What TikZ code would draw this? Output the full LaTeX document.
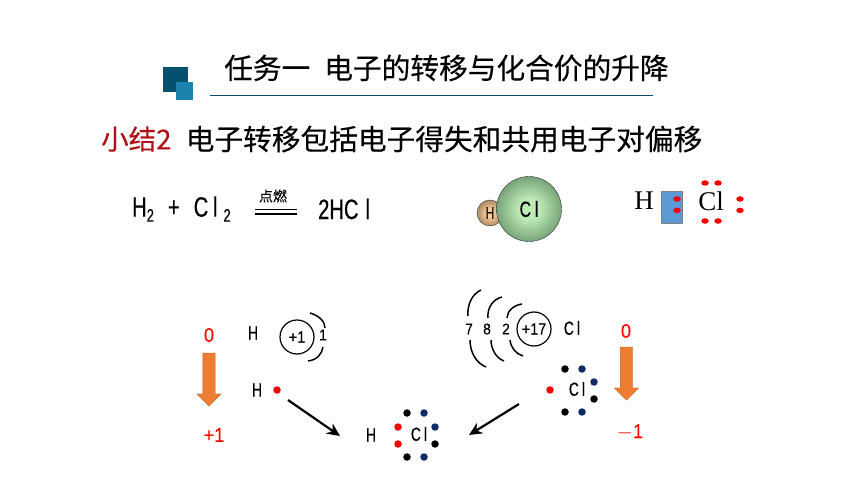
\documentclass[tikz,border=0pt]{standalone}
\usepackage{fontspec}
\setmainfont{Liberation Serif}
\newfontfamily\cjk[FakeBold=0.25]{Noto Sans CJK SC}
\newfontfamily\hei[FakeStretch=0.72,FakeBold=0.5]{Liberation Sans}
\newfontfamily\num[FakeStretch=0.9,FakeBold=0.25]{Liberation Sans}
\usetikzlibrary{positioning,arrows.meta,shapes.arrows,shapes.geometric}
\definecolor{logodark}{HTML}{04506F}
\definecolor{logolight}{HTML}{1A84AE}
\definecolor{sumred}{HTML}{B01116}
\definecolor{dotnavy}{HTML}{0F2A66}
\definecolor{downorange}{HTML}{ED7D31}
\definecolor{boxblue}{HTML}{5B9BD5}
\definecolor{clmid}{HTML}{BDEAB5}
\definecolor{cledge}{HTML}{78A47A}
\definecolor{hmid}{HTML}{F4C99C}
\definecolor{hedge}{HTML}{AC8A62}
\pgfdeclareradialshading{ballcl}{\pgfpoint{0bp}{0bp}}{color(0bp)=(clmid); color(8bp)=(clmid); color(25bp)=(cledge); color(50bp)=(cledge)}
\pgfdeclareradialshading{ballh}{\pgfpoint{0bp}{0bp}}{color(0bp)=(hmid); color(8bp)=(hmid); color(25bp)=(hedge); color(50bp)=(hedge)}
\newcommand{\lowtwo}{\raisebox{-5pt}{\fontsize{18}{18}\selectfont 2}}
\newcommand{\chlorine}{C\kern.17em l}
\tikzset{
  >={Stealth[length=13pt,width=12pt]},
  atomtext/.style={inner sep=0pt,font=\hei\fontsize{19}{19}\selectfont},
  redtext/.style={inner sep=0pt,text=red,font=\num\fontsize{20}{20}\selectfont},
  shelltext/.style={inner sep=0pt,font=\num\fontsize{15.5}{15.5}\selectfont},
  nucleus/.style={circle,draw,line width=1.2pt,minimum size=34pt,inner sep=0pt,font=\num\fontsize{16}{16}\selectfont},
  shellarc/.style={line width=1.5pt},
  serifatom/.style={inner sep=0pt,font=\fontsize{27}{27}\selectfont},
  dotblack/.style={circle,fill=black,minimum size=7.5pt,inner sep=0pt},
  dotblue/.style={dotblack,fill=dotnavy},
  dotred/.style={dotblack,fill=red},
  oval/.style={ellipse,fill=red,minimum width=7.5pt,minimum height=5.5pt,inner sep=0pt},
  downarrow/.style={single arrow,fill=downorange,draw=downorange!80!black,line width=.3pt,rotate=-90,
    minimum height=53pt,single arrow head extend=6pt,
    single arrow head indent=0pt,inner xsep=0pt,inner ysep=6pt},
  bond/.style={->,line width=2.2pt}
}
\begin{document}
\begin{tikzpicture}[x=1pt,y=-1pt]
  \useasboundingbox (0,0) rectangle (860,484);

  % heading
  \node [fill=logodark,minimum size=25pt,inner sep=0pt] (sqa) at (175,79.5) {};
  \node [fill=logolight,minimum width=17pt,minimum height=18pt,inner sep=0pt] (sqb) at (184.5,91) {};
  \node [inner sep=0pt,anchor=west,font=\cjk\fontsize{28.7}{28.7}\selectfont] (title) at (224,68) {任务一\hspace{14pt}电子的转移与化合价的升降};
  \coordinate (rulea) at (210,95);
  \coordinate (ruleb) at (653,95);
  \draw [logodark,line width=.8pt] (rulea) -- (ruleb);
  \node [inner sep=0pt,anchor=west,text=sumred,font=\cjk\fontsize{27.5}{27.5}\selectfont] (sum) at (101,139) {小结2};
  \node [inner sep=0pt,anchor=west,font=\cjk\fontsize{28.7}{28.7}\selectfont] (sumtext) at (185.5,139) {电子转移包括电子得失和共用电子对偏移};

  % equation
  \node [inner sep=0pt,anchor=west,font=\hei\fontsize{28}{28}\selectfont] (left) at (132,209) {H\lowtwo\hspace{14pt}+\hspace{14pt}\chlorine\kern6pt\lowtwo};
  \node [inner sep=0pt,font=\cjk\fontsize{14}{14}\selectfont] (fire) at (273,196) {点燃};
  \coordinate (eqa) at (255,209.5);
  \coordinate (eqb) at (297,209.5);
  \coordinate (eqc) at (255,214);
  \coordinate (eqd) at (297,214);
  \draw [line width=1.5pt] (eqa) -- (eqb);
  \draw [line width=1.5pt] (eqc) -- (eqd);
  \node [inner sep=0pt,anchor=west,font=\hei\fontsize{28}{28}\selectfont] (right) at (318,209) {2HC\kern.25em l};

  % molecule
  \node [circle,draw=black!80,shading=ballh,minimum size=26pt,inner sep=0pt,font=\hei\fontsize{17}{17}\selectfont] (hball) at (490,213) {H};
  \node [circle,draw=black!80,shading=ballcl,minimum size=65pt,inner sep=0pt,font=\hei\fontsize{22}{22}\selectfont] (clball) at (529,209) {\chlorine};

  % shared pair
  \node [serifatom] (hs) at (644,201) {H};
  \node [fill=boxblue,draw=black!50,minimum width=21pt,minimum height=32pt,inner sep=0pt] (box) at (671.5,207) {};
  \node [serifatom] (cls) at (711,201) {Cl};
  \node [oval] (p1) at (677,199) {};
  \node [oval,below=5.5pt of p1] (p2) {};
  \node [oval] (p3) at (705,183) {};
  \node [oval] (p4) at (718,183) {};
  \node [oval] (p5) at (705,221) {};
  \node [oval] (p6) at (718,221) {};
  \node [oval] (p7) at (740,199) {};
  \node [oval,below=5.5pt of p7] (p8) {};

  % hydrogen side
  \node [redtext] (zeroh) at (209,335) {0};
  \node [downarrow] (downh) at (209,376.5) {};
  \node [redtext] (oneh) at (214,435) {+1};
  \node [atomtext] (hatom) at (253,333) {H};
  \node [nucleus] (hcore) at (297,337) {+1};
  \node [shelltext] (hone) at (323,335) {1};
  \draw [shellarc] (310,313) .. controls (320,316) and (325,322) .. (325,328);
  \draw [shellarc] (323,347) .. controls (322,354) and (317,360) .. (308,361);
  \node [atomtext] (hdot) at (257,390) {H};
  \node [dotred] (he) at (277,390) {};
  \coordinate (ha) at (288,400);
  \coordinate (hb) at (340,436);
  \draw [bond] (ha) -- (hb);

  % chlorine side
  \node [shelltext] (sha) at (469,329) {7};
  \node [shelltext] (shb) at (487,329) {8};
  \node [shelltext] (shc) at (506,329) {2};
  \node [nucleus] (clcore) at (534,329) {+17};
  \node [atomtext] (clatom) at (572,328) {\chlorine};
  \draw [shellarc] (481,290) .. controls (472,294) and (467,305) .. (468,316);
  \draw [shellarc] (470,340) .. controls (470,352) and (476,363) .. (486,367);
  \draw [shellarc] (502,297) .. controls (493,299) and (487,308) .. (488,318);
  \draw [shellarc] (491,340) .. controls (491,349) and (496,358) .. (504,361);
  \draw [shellarc] (522,304) .. controls (514,305) and (507,311) .. (507,318);
  \draw [shellarc] (510,340) .. controls (511,348) and (516,354) .. (523,356);
  \node [redtext] (zerocl) at (626,331) {0};
  \node [downarrow] (downcl) at (626.5,370.5) {};
  \node [redtext] (onecl) at (630,432) {$-$1};
  \node [atomtext] (cldot) at (577,389) {\chlorine};
  \node [dotred] (c1) at (550,390) {};
  \node [dotblack] (c2) at (565,369) {};
  \node [dotblue] (c3) at (582,369) {};
  \node [dotblue] (c4) at (594,382) {};
  \node [dotblack] (c5) at (594,399) {};
  \node [dotblack] (c6) at (565,412) {};
  \node [dotblue] (c7) at (582,412) {};
  \coordinate (ca) at (519,404);
  \coordinate (cb) at (469,435);
  \draw [bond] (ca) -- (cb);

  % product
  \node [atomtext] (hprod) at (371,435) {H};
  \node [atomtext] (clprod) at (419,434) {\chlorine};
  \node [dotblack] (d1) at (407,413) {};
  \node [dotblue] (d2) at (424,413) {};
  \node [dotred] (d3) at (398,427) {};
  \node [dotred] (d4) at (398,444) {};
  \node [dotblue] (d5) at (435,427) {};
  \node [dotblack] (d6) at (435,444) {};
  \node [dotblack] (d7) at (407,457) {};
  \node [dotblue] (d8) at (424,457) {};
\end{tikzpicture}
\end{document}
